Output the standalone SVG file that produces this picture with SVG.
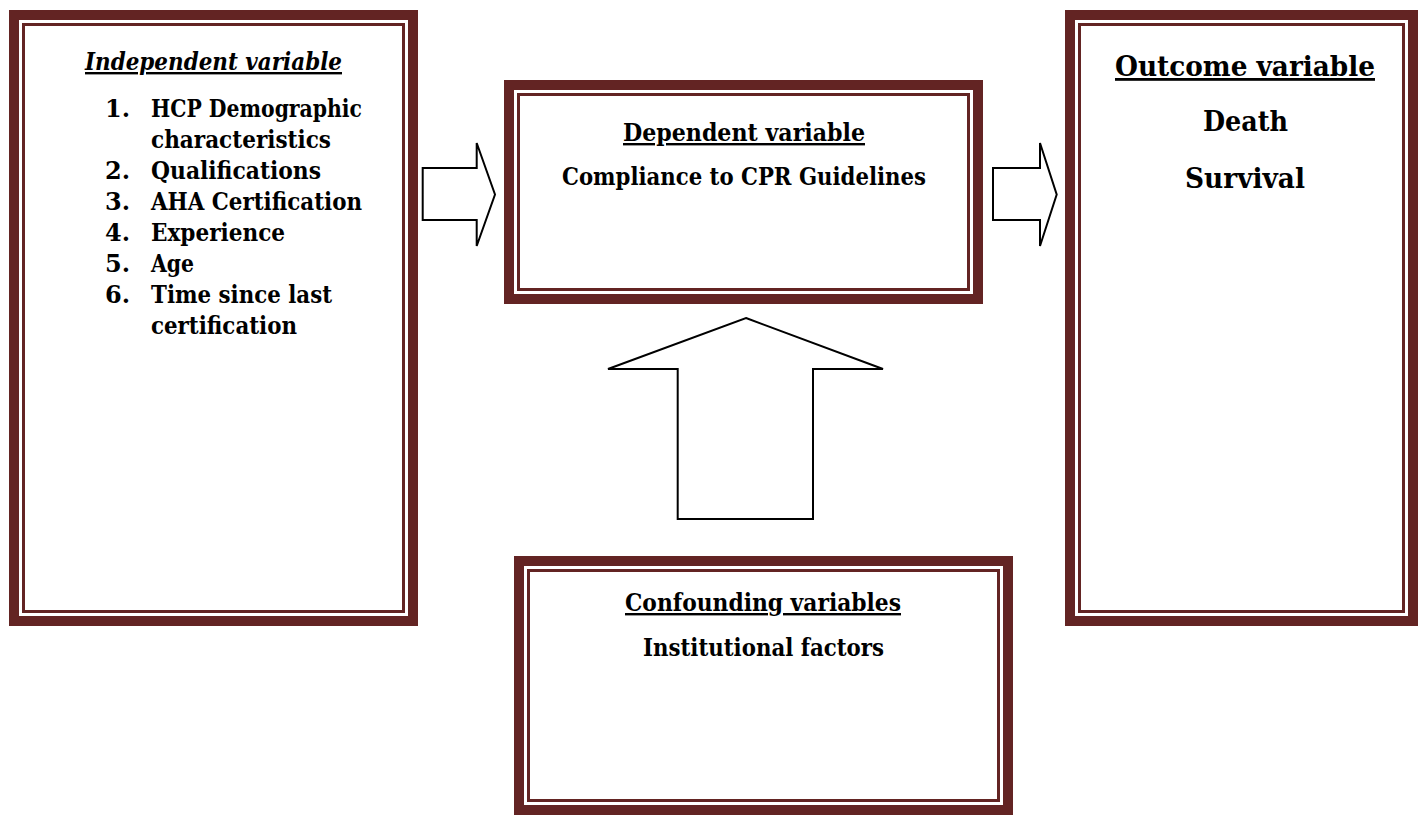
<svg xmlns="http://www.w3.org/2000/svg" width="1419" height="815" viewBox="0 0 1419 815">
<style>
.outer{fill:#fff;stroke:#632423;stroke-width:10}
.inner{fill:none;stroke:#632423;stroke-width:3}
.arrow{fill:#fff;stroke:#000;stroke-width:2;stroke-linejoin:miter}
text{font-family:"DejaVu Serif","Liberation Serif",serif;font-weight:bold;fill:#000}
.t{font-size:24px}
.big{font-size:28px}
.u{text-decoration:underline}
.i{font-style:italic}
</style>
<rect width="1419" height="815" fill="#fff"/>
<g id="connectors">
<path class="arrow" d="M422.7,168 L476.7,168 L476.7,143 L495,194.5 L476.7,246 L476.7,220 L422.7,220 Z"/>
<path class="arrow" d="M993,168 L1040,168 L1040,143 L1056.7,194.5 L1040,246 L1040,220 L993,220 Z"/>
<path class="arrow" d="M746,318 L883,369 L813,369 L813,519 L677.7,519 L677.7,369 L608,369 Z"/>
</g>
<g id="independent">
<rect class="outer" x="14" y="15" width="399" height="606"/>
<rect class="inner" x="23.5" y="24.5" width="380" height="587"/>
<text class="t u i" x="85" y="70" textLength="257" lengthAdjust="spacingAndGlyphs">Independent variable</text>
<text class="t" x="105" y="117">1.</text>
<text class="t" x="151" y="117" textLength="211" lengthAdjust="spacingAndGlyphs">HCP Demographic</text>
<text class="t" x="151" y="148" textLength="180" lengthAdjust="spacingAndGlyphs">characteristics</text>
<text class="t" x="105" y="179">2.</text>
<text class="t" x="151" y="179" textLength="170" lengthAdjust="spacingAndGlyphs">Qualifications</text>
<text class="t" x="105" y="210">3.</text>
<text class="t" x="151" y="210" textLength="211" lengthAdjust="spacingAndGlyphs">AHA Certification</text>
<text class="t" x="105" y="241">4.</text>
<text class="t" x="151" y="241" textLength="134" lengthAdjust="spacingAndGlyphs">Experience</text>
<text class="t" x="105" y="272">5.</text>
<text class="t" x="151" y="272" textLength="43" lengthAdjust="spacingAndGlyphs">Age</text>
<text class="t" x="105" y="303">6.</text>
<text class="t" x="151" y="303" textLength="181" lengthAdjust="spacingAndGlyphs">Time since last</text>
<text class="t" x="151" y="334" textLength="146" lengthAdjust="spacingAndGlyphs">certification</text>
</g>
<g id="dependent">
<rect class="outer" x="509" y="85" width="469" height="214"/>
<rect class="inner" x="518.5" y="94.5" width="450" height="195"/>
<text class="t u" x="623" y="141" textLength="242" lengthAdjust="spacingAndGlyphs">Dependent variable</text>
<text class="t" x="562" y="185" textLength="364" lengthAdjust="spacingAndGlyphs">Compliance to CPR Guidelines</text>
</g>
<g id="outcome">
<rect class="outer" x="1070" y="15" width="343" height="606"/>
<rect class="inner" x="1079.5" y="24.5" width="324" height="587"/>
<text class="big u" x="1115" y="76" textLength="260" lengthAdjust="spacingAndGlyphs">Outcome variable</text>
<text class="big" x="1203" y="131" textLength="85" lengthAdjust="spacingAndGlyphs">Death</text>
<text class="big" x="1185" y="188" textLength="120" lengthAdjust="spacingAndGlyphs">Survival</text>
</g>
<g id="confounding">
<rect class="outer" x="519" y="561" width="489" height="249"/>
<rect class="inner" x="528.5" y="570.5" width="470" height="230"/>
<text class="t u" x="625" y="611" textLength="276" lengthAdjust="spacingAndGlyphs">Confounding variables</text>
<text class="t" x="643" y="656" textLength="241" lengthAdjust="spacingAndGlyphs">Institutional factors</text>
</g>
</svg>
